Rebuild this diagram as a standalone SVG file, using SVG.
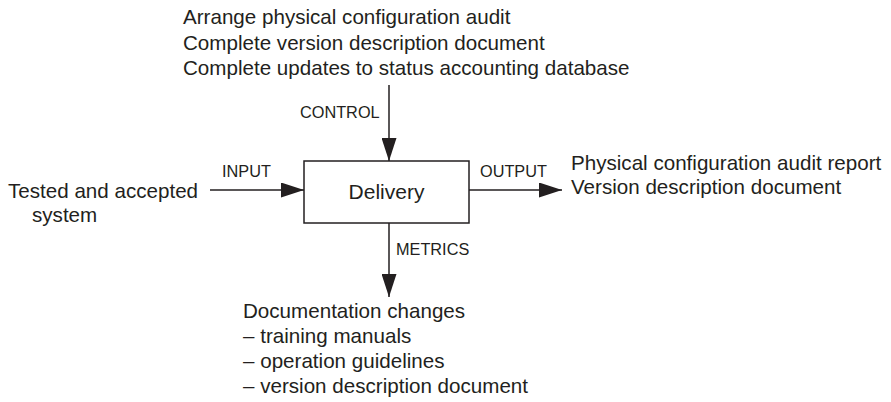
<svg xmlns="http://www.w3.org/2000/svg" width="891" height="402" viewBox="0 0 891 402">
<defs>
<marker id="ah" markerWidth="23" markerHeight="15" refX="23" refY="7.5" orient="auto" markerUnits="userSpaceOnUse">
<path d="M0,0 L23,7.5 L0,15 Z" fill="#231f20"/>
</marker>
<style>
text{font-family:"Liberation Sans",Arial,sans-serif;fill:#231f20}
.t{font-size:20.6px}
.s{font-size:16.3px}
.c{stroke:#231f20;stroke-width:1.5;fill:none}
</style>
</defs>
<rect width="891" height="402" fill="#fff"/>
<g id="control-text">
<text class="t" x="183" y="24">Arrange physical configuration audit</text>
<text class="t" x="183" y="49.5">Complete version description document</text>
<text class="t" x="183" y="75">Complete updates to status accounting database</text>
</g>
<g id="delivery">
<rect x="304" y="161" width="165" height="62" fill="#fff" stroke="#231f20" stroke-width="1.5"/>
<text x="386.5" y="199" text-anchor="middle" font-size="21">Delivery</text>
</g>
<g id="input-text">
<text class="t" x="8" y="198">Tested and accepted</text>
<text class="t" x="32" y="222">system</text>
</g>
<g id="output-text">
<text class="t" x="571" y="170">Physical configuration audit report</text>
<text class="t" x="571" y="194">Version description document</text>
</g>
<g id="metrics-text">
<text class="t" x="243" y="318">Documentation changes</text>
<text class="t" x="243" y="343">– training manuals</text>
<text class="t" x="243" y="368">– operation guidelines</text>
<text class="t" x="243" y="393">– version description document</text>
</g>
<g id="connectors">
<line class="c" x1="389" y1="85" x2="389" y2="161" marker-end="url(#ah)"/>
<line class="c" x1="210" y1="190" x2="304" y2="190" marker-end="url(#ah)"/>
<line class="c" x1="469" y1="190" x2="562" y2="190" marker-end="url(#ah)"/>
<line class="c" x1="389" y1="223" x2="389" y2="297" marker-end="url(#ah)"/>
<text class="s" x="300" y="118">CONTROL</text>
<text class="s" x="222" y="177">INPUT</text>
<text class="s" x="480" y="177">OUTPUT</text>
<text class="s" x="396" y="255">METRICS</text>
</g>
</svg>
